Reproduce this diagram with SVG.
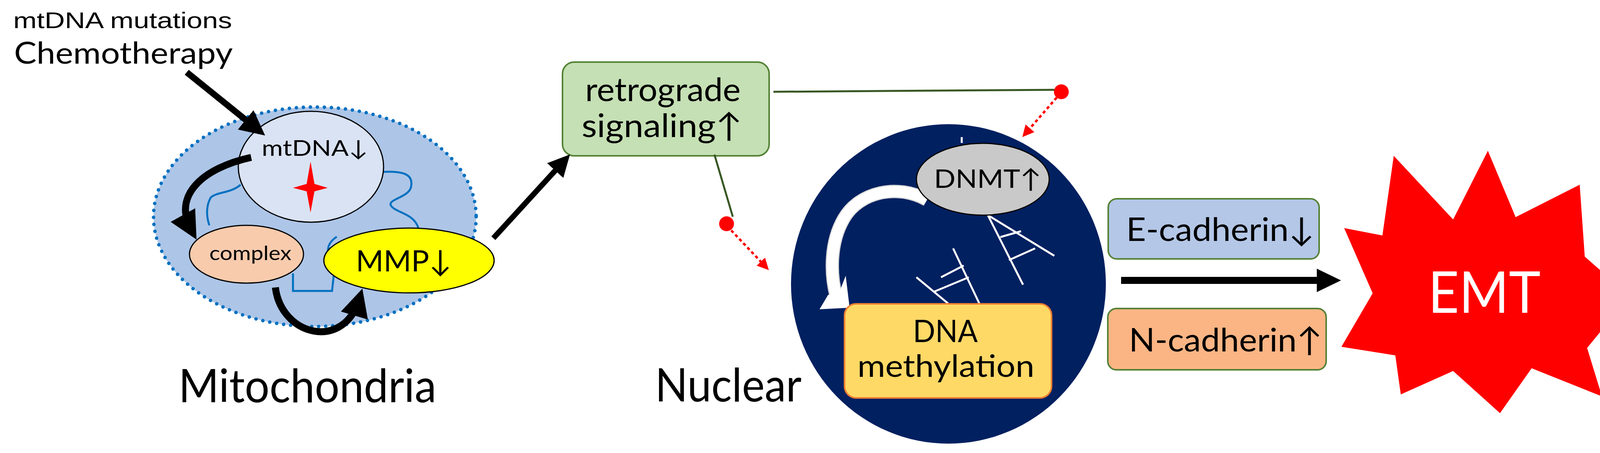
<svg xmlns="http://www.w3.org/2000/svg" width="4205" height="1160" viewBox="0 0 4205 1160">
<style>
.t{font-family:Lato,"Open Sans","DejaVu Sans",sans-serif;fill:#000}
.box{stroke-width:4}
</style>
<defs>
<marker id="ah" markerWidth="4" markerHeight="4" refX="2.5" refY="2" orient="auto" markerUnits="strokeWidth"><path d="M0,0 L4,2 L0,4 z" fill="#000"/></marker>
<marker id="rh" markerWidth="5" markerHeight="5" refX="3" refY="2.5" orient="auto" markerUnits="strokeWidth"><path d="M0,0 L5,2.5 L0,5 z" fill="#ff0000"/></marker>
</defs>
<rect width="4205" height="1160" fill="#fff"/>

<g id="labels">
<text x="34" y="72" font-family="Liberation Sans,Arial,sans-serif" font-size="58" textLength="560" lengthAdjust="spacingAndGlyphs">mtDNA mutations</text>
<text class="t" x="36" y="163" font-size="78" textLength="560" lengthAdjust="spacingAndGlyphs">Chemotherapy</text>
<text class="t" x="457" y="1030" font-size="118" textLength="660" lengthAdjust="spacingAndGlyphs">Mitochondria</text>
<text class="t" x="1677" y="1028" font-size="118" textLength="375" lengthAdjust="spacingAndGlyphs">Nuclear</text>
</g>

<g id="mitochondria">
<ellipse cx="806" cy="555" rx="413" ry="281" fill="#adc5e7" stroke="#0070c0" stroke-width="9" stroke-dasharray="0 18" stroke-linecap="round"/>
<path d="M616,473 C590,495 560,490 540,505 C525,530 530,560 536,577 M862,606 C835,625 840,640 840,655 M750,700 L750,745 L850,745 L855,700 M982,440 C1030,438 1060,445 1052,480 C1045,505 995,510 1000,525 C1010,545 1060,545 1071,584" fill="none" stroke="#0070c0" stroke-width="5"/>
</g>
<g id="mtdna">
<ellipse cx="796" cy="427" rx="186" ry="142" fill="#dae3f3" stroke="#000" stroke-width="3"/>
<text class="t" x="670" y="399" font-size="56" textLength="272" lengthAdjust="spacingAndGlyphs">mtDNA↓</text>
<path d="M795,414 L805,471 L839,481 L805,490 L795,544 L785,490 L750,481 L785,471 z" fill="#ff0000"/>
</g>
<g id="complex">
<ellipse cx="631" cy="651" rx="146" ry="74" fill="#f8cbad" stroke="#000" stroke-width="3"/>
<text class="t" x="536" y="666" font-size="50" textLength="210" lengthAdjust="spacingAndGlyphs">complex</text>
</g>
<g id="mmp">
<ellipse cx="1047" cy="667" rx="218" ry="83" fill="#ffff00" stroke="#000" stroke-width="3"/>
<text class="t" x="911" y="695" font-size="76" textLength="245" lengthAdjust="spacingAndGlyphs">MMP↓</text>
</g>

<g id="retrograde">
<rect x="1440" y="159" width="529" height="240" rx="30" fill="#c5e0b4" stroke="#548235" class="box"/>
<text class="t" x="1498" y="259" font-size="84" textLength="398" lengthAdjust="spacingAndGlyphs">retrograde</text>
<text class="t" x="1489" y="351" font-size="84" textLength="411" lengthAdjust="spacingAndGlyphs">signaling↑</text>
</g>

<g id="nucleus">
<ellipse cx="2428" cy="727" rx="403" ry="409" fill="#002060"/>
<g stroke="#fff" stroke-width="5" fill="none">
<path d="M2462,351 L2462,366"/>
<path d="M2529,551 L2619,729 M2529,551 L2699,655 M2561,607 L2614,592 M2583,666 L2650,636"/>
<path d="M2346,710 L2427,777 M2440,636 L2507,777 M2391,747 L2480,710 M2409,710 L2467,680"/>
</g>
<path d="M2373,512 C2300,470 2200,490 2160,560 C2125,620 2125,700 2141,760" fill="none" stroke="#ddd" stroke-width="34"/>
<path d="M2373,512 C2300,470 2200,490 2160,560 C2125,620 2125,700 2141,760" fill="none" stroke="#fff" stroke-width="28"/>
<path d="M2098,792 L2175,788 L2165,706 L2148,750 L2120,755 z" fill="#fff"/>
</g>
<g id="dnmt">
<ellipse cx="2516" cy="459" rx="170" ry="92" fill="#c9c9c9" stroke="#000" stroke-width="3"/>
<text class="t" x="2391" y="481" font-size="66" textLength="275" lengthAdjust="spacingAndGlyphs">DNMT↑</text>
</g>
<g id="dnamethylation">
<rect x="2162" y="778" width="530" height="241" rx="30" fill="#ffd966" stroke="#ed7d31" class="box"/>
<text class="t" x="2337" y="876" font-size="80" textLength="166" lengthAdjust="spacingAndGlyphs">DNA</text>
<text class="t" x="2195" y="965" font-size="80" textLength="453" lengthAdjust="spacingAndGlyphs">methylation</text>
</g>

<g id="ecadherin">
<rect x="2837" y="509" width="540" height="154" rx="22" fill="#b4c7e7" stroke="#548235" class="box"/>
<text class="t" x="2883" y="617" font-size="84" textLength="482" lengthAdjust="spacingAndGlyphs">E-cadherin↓</text>
</g>
<g id="ncadherin">
<rect x="2836" y="790" width="559" height="157" rx="22" fill="#fbb584" stroke="#548235" class="box"/>
<text class="t" x="2890" y="900" font-size="84" textLength="495" lengthAdjust="spacingAndGlyphs">N-cadherin↑</text>
</g>

<g id="emt">
<polygon points="3568,399 3720,562 3809,386 3880,556 4044,473 4057,657 4172,758 4063,891 4101,1015 3921,943 3840,1058 3720,950 3586,1010 3572,910 3434,888 3514,751 3441,584 3539,603" fill="#ff0000"/>
<text x="3656" y="801" font-family="Lato,'Open Sans',sans-serif" font-size="148" fill="#fff" textLength="288" lengthAdjust="spacingAndGlyphs">EMT</text>
</g>

<g id="connectors">
<line x1="478" y1="185" x2="660" y2="332" stroke="#000" stroke-width="16" marker-end="url(#ah)"/>
<path d="M643,403 C520,430 440,500 490,590" fill="none" stroke="#000" stroke-width="18" marker-end="url(#ah)"/>
<path d="M705,736 C720,860 880,900 920,765" fill="none" stroke="#000" stroke-width="18" marker-end="url(#ah)"/>
<line x1="1263" y1="610" x2="1445" y2="411" stroke="#000" stroke-width="14" marker-end="url(#ah)"/>
<line x1="1980" y1="235" x2="2699" y2="230" stroke="#385723" stroke-width="5"/>
<circle cx="2717" cy="235" r="19" fill="#ff0000"/>
<line x1="2705" y1="250" x2="2625" y2="342" stroke="#ff0000" stroke-width="6" stroke-dasharray="8 7" marker-end="url(#rh)"/>
<line x1="1829" y1="396" x2="1876" y2="555" stroke="#385723" stroke-width="5"/>
<circle cx="1860" cy="573" r="19" fill="#ff0000"/>
<line x1="1872" y1="590" x2="1960" y2="683" stroke="#ff0000" stroke-width="6" stroke-dasharray="8 7" marker-end="url(#rh)"/>
<line x1="2870" y1="718" x2="3375" y2="718" stroke="#000" stroke-width="18"/>
<polygon points="3371,688 3433,718 3371,748" fill="#000"/>
</g>
</svg>
